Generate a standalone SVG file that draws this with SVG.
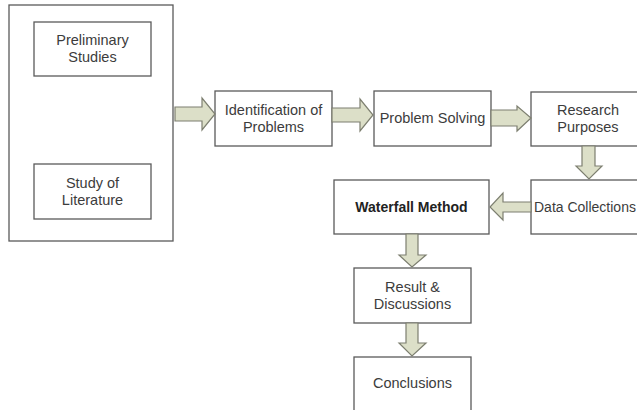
<svg xmlns="http://www.w3.org/2000/svg" width="637" height="410" viewBox="0 0 637 410">
<style>
.box{fill:#fff;stroke:#5a5a5a;stroke-width:1.3}
.t{font-family:"Liberation Sans",Arial,sans-serif;font-size:14.5px;fill:#3c3c3c;text-anchor:middle}
.b{font-weight:bold;fill:#222;font-size:14px}
.arr{fill:#dcdfc8;stroke:#7d7f70;stroke-width:1.2;stroke-linejoin:miter}
</style>
<rect width="637" height="410" fill="#fff"/>
<g id="outer"><rect class="box" x="9" y="5" width="164" height="236"/></g>
<g id="prelim"><rect class="box" x="34" y="22" width="117" height="54"/>
<text class="t" x="92.5" y="45">Preliminary</text><text class="t" x="92.5" y="62">Studies</text></g>
<g id="literature"><rect class="box" x="34" y="164" width="117" height="55"/>
<text class="t" x="92.5" y="188">Study of</text><text class="t" x="92.5" y="205">Literature</text></g>
<g id="ident"><rect class="box" x="215" y="91" width="117" height="55"/>
<text class="t" x="273.5" y="115">Identification of</text><text class="t" x="273.5" y="132">Problems</text></g>
<g id="solving"><rect class="box" x="374" y="91" width="117" height="55"/>
<text class="t" x="432.5" y="123">Problem Solving</text></g>
<g id="purposes"><rect class="box" x="531" y="92" width="114" height="54"/>
<text class="t" x="588" y="115">Research</text><text class="t" x="588" y="132">Purposes</text></g>
<g id="data"><rect class="box" x="531" y="180" width="114" height="54"/>
<text class="t" x="534" y="212" style="text-anchor:start;font-size:14px">Data Collections</text></g>
<g id="waterfall"><rect class="box" x="334" y="180" width="155" height="54"/>
<text class="t b" x="411.5" y="212">Waterfall Method</text></g>
<g id="result"><rect class="box" x="354" y="268" width="117" height="55"/>
<text class="t" x="412.5" y="292">Result &amp;</text><text class="t" x="412.5" y="309">Discussions</text></g>
<g id="conclusions"><rect class="box" x="354" y="357" width="117" height="60"/>
<text class="t" x="412.5" y="388">Conclusions</text></g>
<g id="connectors">
<path class="arr" d="M175,107 H202 V98 L215,114 L202,130 V121 H175 Z"/>
<path class="arr" d="M332,108 H360 V99 L373,115 L360,131 V122 H332 Z"/>
<path class="arr" d="M491,110 H517 V106 L531,118 L517,131 V126 H491 Z"/>
<path class="arr" d="M582,146 H595 V166 H602 L589,179 L576,166 H582 Z"/>
<path class="arr" d="M531,202 H503 V193 L490,207 L503,220 V212 H531 Z"/>
<path class="arr" d="M406,234 H418 V255 H426 L412,267 L399,255 H406 Z"/>
<path class="arr" d="M406,323 H418 V343 H426 L412,356 L399,343 H406 Z"/>
</g>
</svg>
